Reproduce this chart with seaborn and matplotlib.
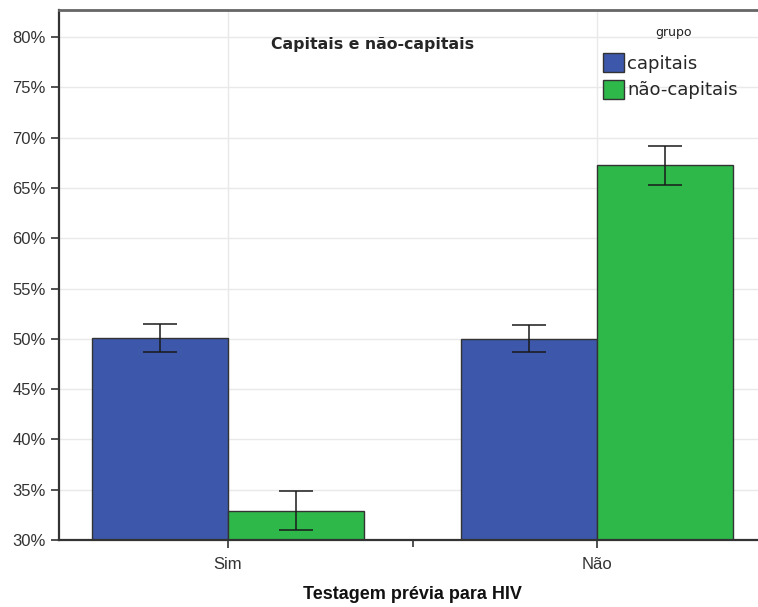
import pandas as pd
import numpy as np
import matplotlib.pyplot as plt
import matplotlib.ticker as mticker
import seaborn as sns

# -------------------------------
# Data
# -------------------------------
categorias = ["Sim", "Não"]
grupos = ["capitais", "não-capitais"]
capitais = [50.1, 50.0]
nao_capitais = [32.9, 67.3]
capitais_lo = [48.7, 48.7]
capitais_hi = [51.5, 51.4]
nao_capitais_lo = [31.0, 65.3]
nao_capitais_hi = [34.9, 69.2]

df = pd.DataFrame({
    "teste": categorias * 2,
    "grupo": [grupos[0]] * 2 + [grupos[1]] * 2,
    "pct": capitais + nao_capitais,
})
lows = [capitais_lo, nao_capitais_lo]
highs = [capitais_hi, nao_capitais_hi]

sns.set_style("white")
narrow = ["Liberation Sans Narrow", "Liberation Sans", "DejaVu Sans"]
plt.rcParams["font.family"] = ["DejaVu Sans"]

fig = plt.figure(figsize=(7.58, 6.07), dpi=100)
ax = fig.add_axes([0.0778, 0.1104, 0.9328, 0.8731])

cores = ["#3d58ab", "#2eb84a"]
sns.barplot(data=df, x="teste", y="pct", hue="grupo", order=categorias,
            hue_order=grupos, palette=cores, saturation=1, errorbar=None,
            width=0.737, gap=0, edgecolor="#333333", linewidth=1.0, ax=ax,
            zorder=2)

# error bars on the bar centres
for cont, lo, hi, vals in zip(ax.containers, lows, highs, [capitais, nao_capitais]):
    xs = [b.get_x() + b.get_width() / 2 for b in cont]
    v = np.array(vals)
    yerr = [v - np.array(lo), np.array(hi) - v]
    ax.errorbar(xs, v, yerr=yerr, fmt="none", ecolor="#1a1a1a",
                elinewidth=1.1, capsize=12, capthick=1.1, zorder=3)

ax.set_ylim(30, 82.7)
ax.set_xlim(-0.458, 1.458)
ax.yaxis.set_major_locator(mticker.MultipleLocator(5))
ax.yaxis.set_major_formatter(mticker.PercentFormatter(decimals=0))
ax.xaxis.set_minor_locator(mticker.FixedLocator([0.5]))

ax.grid(True, which="major", color="#e9e9e9", linewidth=1.0, zorder=0)
ax.set_axisbelow(True)

for s in ["left", "bottom"]:
    ax.spines[s].set_color("#333333")
    ax.spines[s].set_linewidth(1.6)
ax.spines["top"].set_color("#666666")
ax.spines["top"].set_linewidth(2.0)
ax.spines["right"].set_visible(False)

ax.tick_params(axis="both", which="both", bottom=True, left=True)
ax.tick_params(axis="both", which="major", direction="out", length=6,
               width=1.2, color="#333333", labelsize=12, labelcolor="#333333")
ax.tick_params(axis="x", which="minor", direction="out", length=5,
               width=1.2, color="#333333")
ax.tick_params(axis="x", pad=6)
for lab in ax.get_xticklabels() + ax.get_yticklabels():
    lab.set_family(narrow)

ax.set_ylabel("")
ax.set_xlabel("Testagem prévia para HIV", fontsize=13, fontweight="bold",
              family=narrow, labelpad=10, color="#111111")

ax.text(0.443, 0.935, "Capitais e não-capitais", transform=ax.transAxes,
        ha="center", va="center", fontsize=11.3, fontweight="bold")

# legend: title drawn separately so it sits higher above the entries
ax.text(0.8685, 0.9585, "grupo", transform=ax.transAxes, ha="center",
        va="center", fontsize=9, color="#222222")
leg = ax.legend(loc="upper left", bbox_to_anchor=(0.769, 0.918),
                frameon=False, fontsize=13,
                handlelength=1.2, handleheight=1.2, handletextpad=0.15,
                labelspacing=0.4, borderaxespad=0, borderpad=0)
for h in leg.legend_handles:
    h.set_edgecolor("#333333")
    h.set_linewidth(1.0)

fig.savefig("out.png", dpi=100)
